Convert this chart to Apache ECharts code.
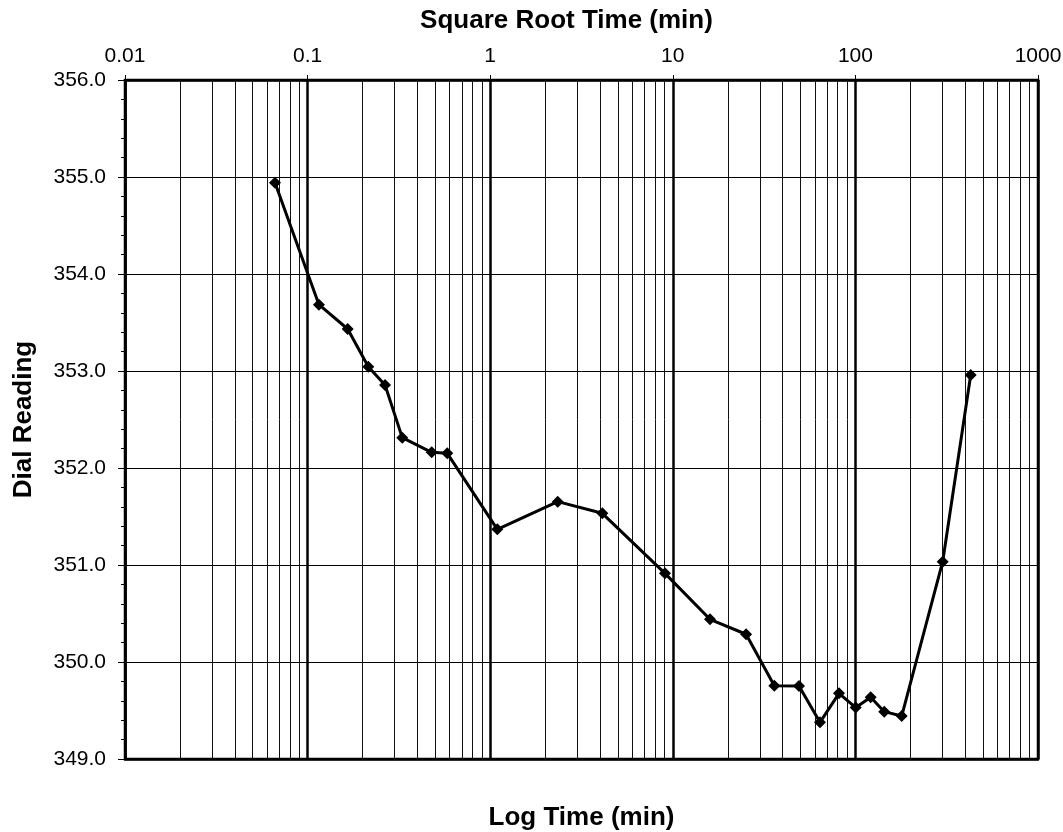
<!DOCTYPE html>
<html>
<head>
<meta charset="utf-8">
<script src="https://cdn.jsdelivr.net/npm/echarts@6/dist/echarts.min.js"></script>
<style>html,body{margin:0;padding:0;background:#fff}#chart{width:1063px;height:832px}</style>
</head>
<body>
<div id="chart"></div>
<script>
// Data
const timeMin = [0.0663, 0.1154, 0.1658, 0.215, 0.2655, 0.330, 0.478, 0.582, 1.094, 2.343, 4.11, 9.06, 15.98, 25.2, 35.97, 49.1, 63.97, 81.3, 100.4, 121.3, 143.9, 179.3, 300.6, 428];
const dialReading = [354.94, 353.684, 353.433, 353.044, 352.856, 352.313, 352.162, 352.151, 351.368, 351.653, 351.533, 350.914, 350.44, 350.286, 349.756, 349.753, 349.378, 349.677, 349.53, 349.636, 349.488, 349.443, 351.034, 352.959];
const topTickLabels = ['0.01', '0.1', '1', '10', '100', '1000'];
const decades = [0.01, 0.1, 1, 10, 100];
const minorMultipliers = [2, 3, 4, 5, 6, 7, 8, 9];
const yTicks = [349, 350, 351, 352, 353, 354, 355, 356];

const points = timeMin.map((t, i) => [t, dialReading[i]]);
const minorGrid = [];
decades.forEach(d => minorMultipliers.forEach(m => minorGrid.push({ xAxis: +(d * m).toPrecision(6) })));

const font = 'Liberation Sans, Arial, sans-serif';
const titleStyle = { fontFamily: font, fontWeight: 'bold', fontSize: 26, color: '#000' };
const chart = echarts.init(document.getElementById('chart'), null, { renderer: 'canvas' });
chart.setOption({
  animation: false,
  backgroundColor: '#fff',
  grid: { left: 125, right: 25, top: 80, bottom: 73, containLabel: false, outerBoundsMode: 'none', show: true, borderColor: '#000', borderWidth: 2.5, backgroundColor: 'transparent' },
  xAxis: [
    {
      type: 'log', logBase: 10, min: 0.01, max: 1000, position: 'bottom',
      name: 'Log Time (min)', nameLocation: 'middle', nameGap: 46,
      nameTextStyle: titleStyle,
      axisLine: { show: true, lineStyle: { color: '#000', width: 2.5 } },
      axisTick: { show: false },
      axisLabel: { show: false },
      splitLine: { show: true, lineStyle: { color: '#000', width: 2.5 } }
    },
    {
      type: 'log', logBase: 10, min: 0.01, max: 1000, position: 'top',
      name: 'Square Root Time (min)', nameLocation: 'middle', nameGap: 46,
      nameTextStyle: Object.assign({}, titleStyle, { padding: [0, 30, 0, 0] }),
      axisLine: { show: true, lineStyle: { color: '#000', width: 2.5 } },
      axisTick: { show: true, length: 5, inside: false, lineStyle: { color: '#000', width: 1 } },
      axisLabel: {
        show: true, margin: 13, fontFamily: font, fontSize: 21, color: '#000',
        formatter: v => {
          const idx = Math.round(Math.log10(v)) + 2;
          return topTickLabels[idx] !== undefined ? topTickLabels[idx] : '';
        }
      },
      splitLine: { show: false }
    }
  ],
  yAxis: {
    type: 'value', min: yTicks[0], max: yTicks[yTicks.length - 1], interval: 1,
    name: 'Dial Reading', nameLocation: 'middle', nameGap: 88, nameRotate: 90,
    nameTextStyle: titleStyle,
    axisLine: { show: true, lineStyle: { color: '#000', width: 2.5 } },
    axisTick: { show: true, length: 7, inside: false, lineStyle: { color: '#000', width: 1 } },
    minorTick: { show: true, splitNumber: 5, length: 4, lineStyle: { color: '#000', width: 1 } },
    axisLabel: { margin: 19, fontFamily: font, fontSize: 21, color: '#000', formatter: v => v.toFixed(1) },
    splitLine: { show: true, lineStyle: { color: '#000', width: 1 } }
  },
  series: [
    {
      type: 'line', xAxisIndex: 0, data: [], silent: true, z: 1,
      markLine: {
        silent: true, symbol: ['none', 'none'], animation: false,
        label: { show: false },
        lineStyle: { color: '#111', width: 1, type: 'solid' },
        emphasis: { disabled: true },
        data: minorGrid
      }
    },
    {
      type: 'line', xAxisIndex: 0, data: points, z: 5,
      symbol: 'diamond', symbolSize: 12,
      lineStyle: { color: '#000', width: 3 },
      itemStyle: { color: '#000' }
    }
  ]
});
</script>
</body>
</html>
